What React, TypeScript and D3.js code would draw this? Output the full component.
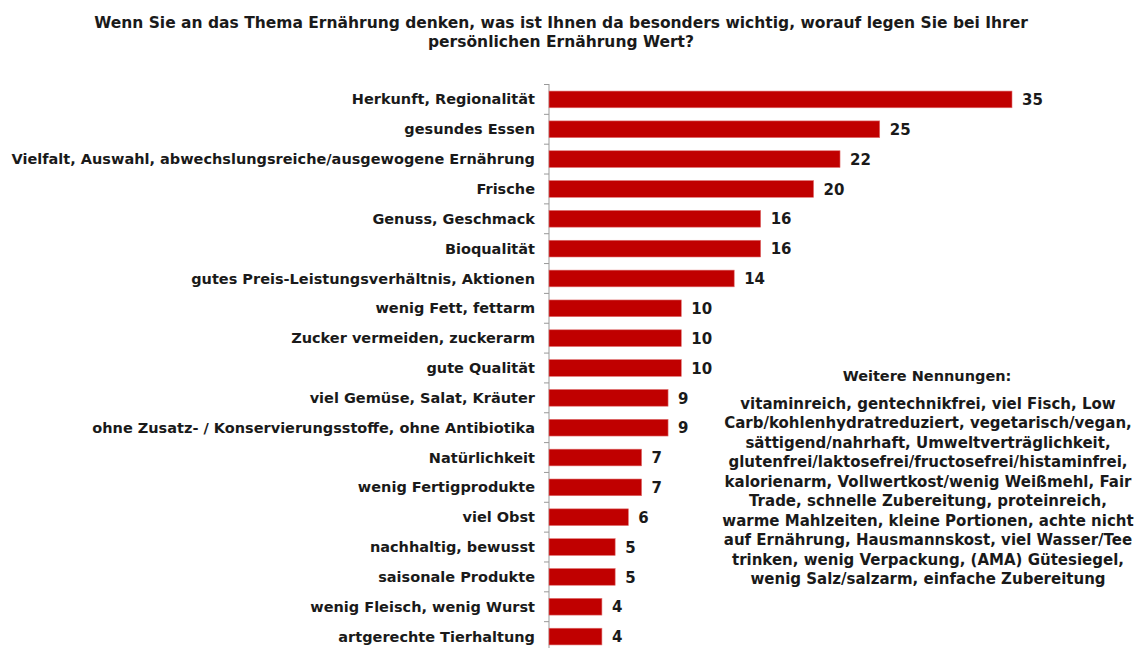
import React from "react";
import * as d3 from "d3";

const categories = [
  "Herkunft, Regionalität",
  "gesundes Essen",
  "Vielfalt, Auswahl, abwechslungsreiche/ausgewogene Ernährung",
  "Frische",
  "Genuss, Geschmack",
  "Bioqualität",
  "gutes Preis-Leistungsverhältnis, Aktionen",
  "wenig Fett, fettarm",
  "Zucker vermeiden, zuckerarm",
  "gute Qualität",
  "viel Gemüse, Salat, Kräuter",
  "ohne Zusatz- / Konservierungsstoffe, ohne Antibiotika",
  "Natürlichkeit",
  "wenig Fertigprodukte",
  "viel Obst",
  "nachhaltig, bewusst",
  "saisonale Produkte",
  "wenig Fleisch, wenig Wurst",
  "artgerechte Tierhaltung",
];
const values = [35, 25, 22, 20, 16, 16, 14, 10, 10, 10, 9, 9, 7, 7, 6, 5, 5, 4, 4];

const titleLines = [
  "Wenn Sie an das Thema Ernährung denken, was ist Ihnen da besonders wichtig, worauf legen Sie bei Ihrer",
  "persönlichen Ernährung Wert?",
];
const noteTitle = "Weitere Nennungen:";
const noteLines = [
  "vitaminreich, gentechnikfrei, viel Fisch, Low",
  "Carb/kohlenhydratreduziert, vegetarisch/vegan,",
  "sättigend/nahrhaft, Umweltverträglichkeit,",
  "glutenfrei/laktosefrei/fructosefrei/histaminfrei,",
  "kalorienarm, Vollwertkost/wenig Weißmehl, Fair",
  "Trade, schnelle Zubereitung, proteinreich,",
  "warme Mahlzeiten, kleine Portionen, achte nicht",
  "auf Ernährung, Hausmannskost, viel Wasser/Tee",
  "trinken, wenig Verpackung, (AMA) Gütesiegel,",
  "wenig Salz/salzarm, einfache Zubereitung",
];

const W = 1134;
const H = 648;
const FONT = "'DejaVu Sans', Verdana, sans-serif";

export default function App() {
  const x0 = 549;
  const x = d3.scaleLinear().domain([0, 35]).range([x0, 1012]);
  const y = d3.scaleBand<string>().domain(categories).range([84.5, 651.5]).paddingInner(0.44).paddingOuter(0.22);
  const ticks = d3.range(categories.length + 1).map((i) => 84.5 + i * ((651.5 - 84.5) / categories.length));
  return (
    <svg width={W} height={H} style={{ position: "absolute", left: 0, top: 0, background: "#fff" }}>
      <g fontFamily={FONT} fontWeight="bold" fill="#1a1a1a">
        {titleLines.map((t, i) => (
          <text key={i} x={561} y={27.5 + i * 19.5} textAnchor="middle" fontSize={15.5}>
            {t}
          </text>
        ))}
      </g>
      <line x1={x0} x2={x0} y1={84} y2={H} stroke="#999" strokeWidth={1} />
      {ticks.map((t, i) => (
        <line key={i} x1={x0 - 5} x2={x0} y1={t} y2={t} stroke="#999" strokeWidth={1} />
      ))}
      {categories.map((c, i) => (
        <g key={c}>
          <rect
            x={x(0)}
            y={y(c)!}
            width={x(values[i]) - x(0)}
            height={y.bandwidth()}
            fill="#C00000"
            stroke="#e07070"
            strokeWidth={0.6}
          />
          <text
            x={x0 - 14}
            y={y(c)! + y.bandwidth() / 2}
            dy="0.35em"
            textAnchor="end"
            fontFamily={FONT}
            fontWeight="bold"
            fontSize={14.5}
            fill="#1a1a1a"
          >
            {c}
          </text>
          <text
            x={x(values[i]) + 10}
            y={y(c)! + y.bandwidth() / 2}
            dy="0.38em"
            fontFamily={FONT}
            fontWeight="bold"
            fontSize={15}
            fill="#1a1a1a"
          >
            {values[i]}
          </text>
        </g>
      ))}
      <g fontFamily={FONT} fontWeight="bold" fill="#1a1a1a" textAnchor="middle">
        <text x={927} y={381} fontSize={14.5}>
          {noteTitle}
        </text>
        {noteLines.map((t, i) => (
          <text key={i} x={928} y={409 + i * 19.45} fontSize={15}>
            {t}
          </text>
        ))}
      </g>
    </svg>
  );
}
